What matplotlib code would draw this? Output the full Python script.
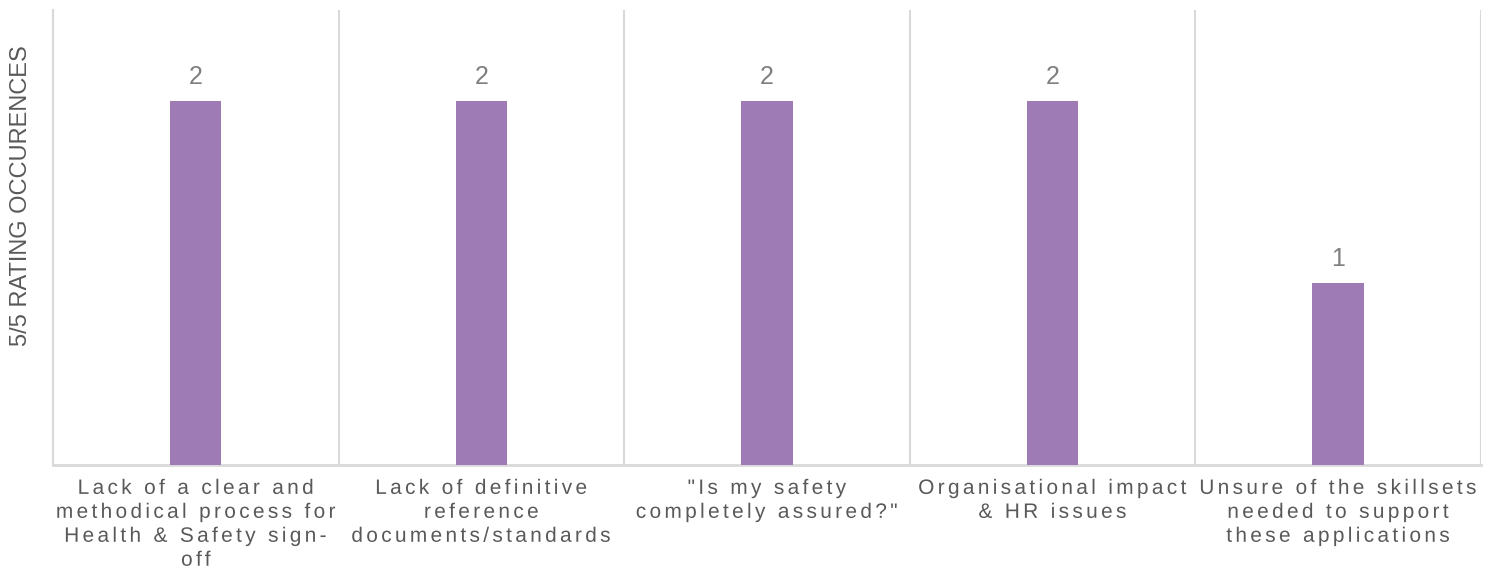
import matplotlib.pyplot as plt
import numpy as np
from matplotlib.patheffects import AbstractPathEffect
from matplotlib.path import Path
from matplotlib.textpath import text_to_path

plt.rcParams['font.family'] = ['Liberation Sans', 'DejaVu Sans']

categories = ['Lack of a clear and\nmethodical process for\nHealth & Safety sign-\noff',
              'Lack of definitive\nreference\ndocuments/standards',
              '"Is my safety\ncompletely assured?"',
              'Organisational impact\n& HR issues',
              'Unsure of the skillsets\nneeded to support\nthese applications']
counts = [2, 2, 2, 2, 1]

bar_col = '#9E7BB5'
grid_col = '#D9D9D9'
txt_col = '#595959'


class LetterSpacing(AbstractPathEffect):
    # spreads the glyphs of each drawn line apart (excel style character spacing)
    def __init__(self, text, prop, gap):
        super().__init__()
        self.lines = text.split('\n')
        self.gap = gap
        self.n = 0
        font = text_to_path._get_font(prop)
        self.xpos = []
        for s in self.lines:
            info, _, _ = text_to_path.get_glyphs_with_font(font, s)
            self.xpos.append(np.array([g[1] for g in info]))

    def draw_path(self, renderer, gc, tpath, affine, rgbFace=None):
        xp = self.xpos[self.n % len(self.lines)]
        self.n += 1
        verts = tpath.vertices.copy()
        codes = tpath.codes
        if codes is None or len(xp) == 0:
            renderer.draw_path(gc, tpath, affine, rgbFace)
            return
        starts = np.flatnonzero(codes == Path.MOVETO)
        ends = np.append(starts[1:], len(codes))
        for s, e in zip(starts, ends):
            ok = codes[s:e] != Path.CLOSEPOLY
            xs = verts[s:e][ok, 0]
            mid = 0.5 * (xs.min() + xs.max())
            i = max(np.searchsorted(xp, mid, side='right') - 1, 0)
            verts[s:e, 0] += i * self.gap
        verts[:, 0] -= (len(xp) - 1) * self.gap / 2
        renderer.draw_path(gc, Path(verts, codes), affine, rgbFace)


fig = plt.figure(figsize=(14.92, 5.73), dpi=100)
ax = fig.add_axes([0.0355, 0.1885, 0.9571, 0.794])

x = np.arange(len(counts))
bars = ax.bar(x, counts, width=0.18, color=bar_col, zorder=3)
ax.bar_label(bars, padding=9, color='#7F7F7F', fontsize=18)

ax.set_xlim(-0.5, len(counts) - 0.5)
ax.set_ylim(0, 2.5)
ax.set_xticks(x)
ax.set_xticklabels(categories, color=txt_col, fontsize=15, linespacing=1.33)
for lab in ax.get_xticklabels():
    lab.set_path_effects([LetterSpacing(lab.get_text(), lab.get_fontproperties(), 16)])
ax.set_xticks(np.arange(-0.5, len(counts), 1.0), minor=True)
ax.tick_params(axis='x', which='both', length=0, pad=10)
ax.set_yticks([])
ax.grid(which='minor', axis='x', color=grid_col, linewidth=1.5, zorder=0)

for s in ['top', 'right']:
    ax.spines[s].set_visible(False)
ax.spines['left'].set_color(grid_col)
ax.spines['left'].set_linewidth(1.5)
ax.spines['bottom'].set_color(grid_col)
ax.spines['bottom'].set_linewidth(2)

ax.set_ylabel('5/5 RATING OCCURENCES', color=txt_col, fontsize=17)
ax.yaxis.set_label_coords(-0.015, 0.593)

plt.savefig('out.png', dpi=100)
